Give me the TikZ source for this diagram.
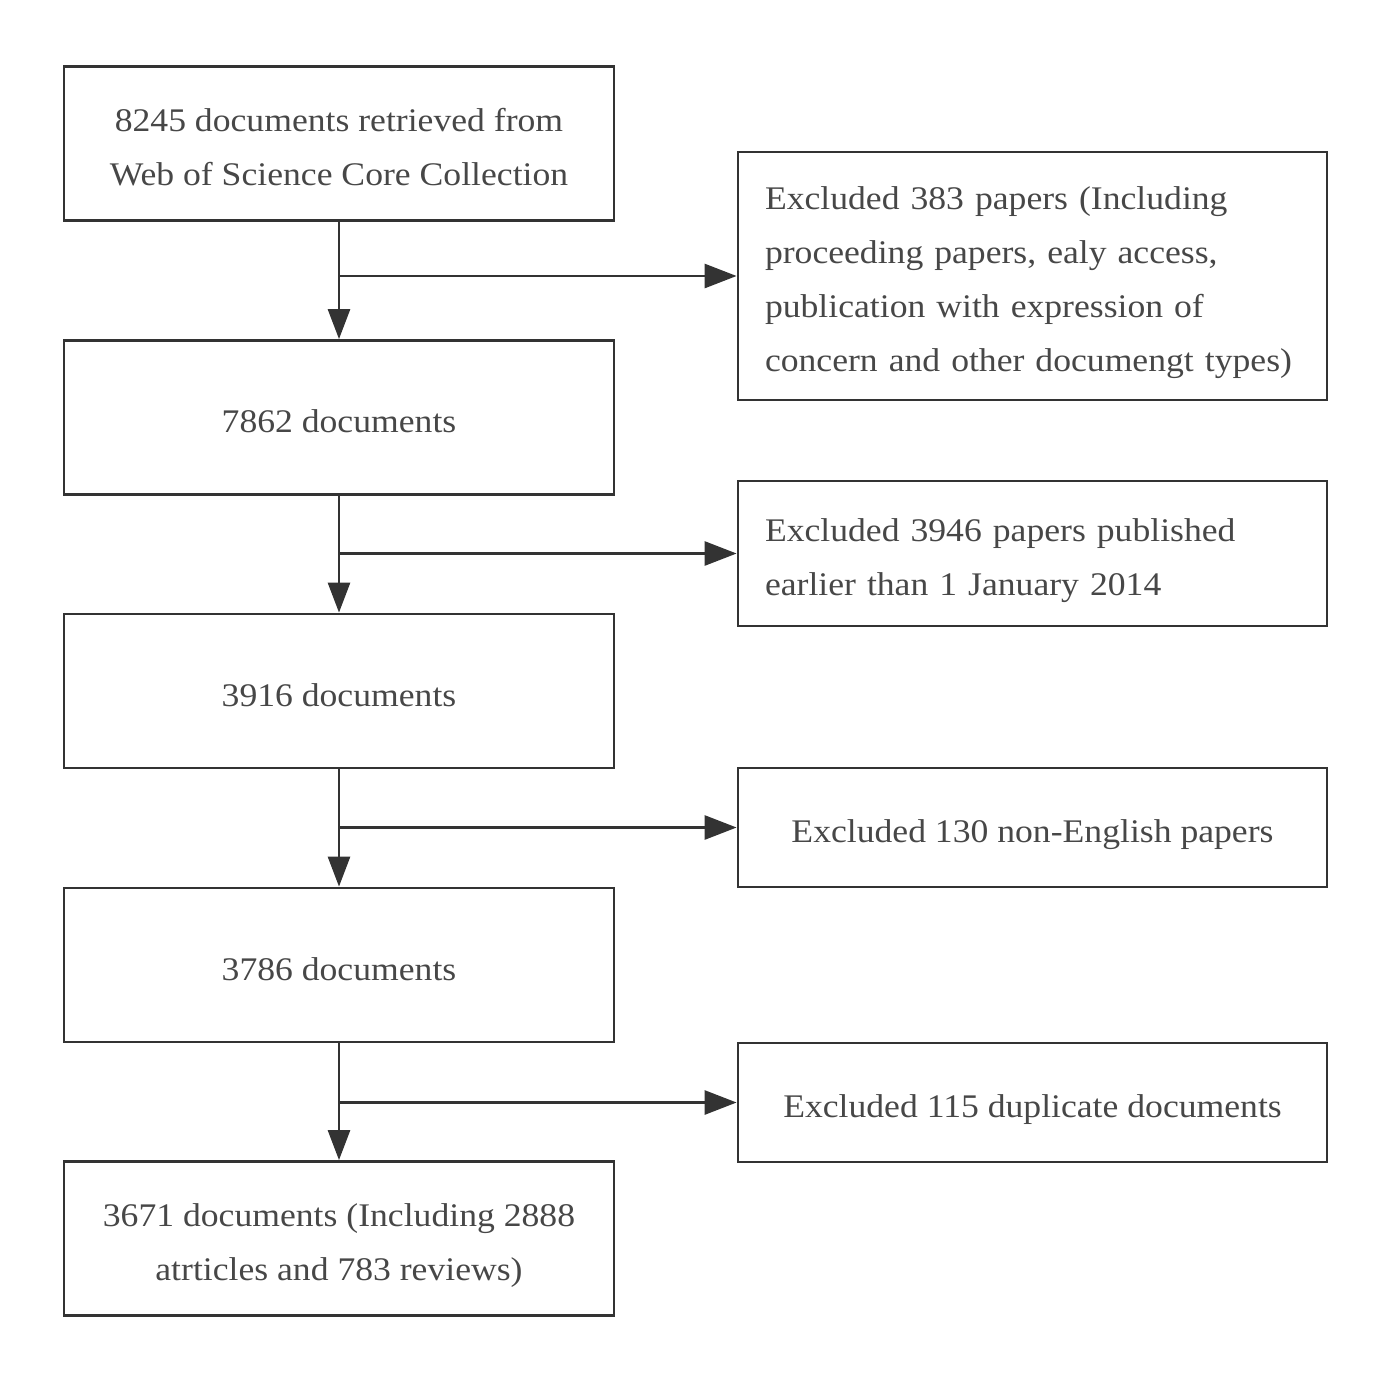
\documentclass[tikz,border=0pt]{standalone}
\usepackage{fontspec}
\setmainfont[FakeStretch=1.08]{Liberation Serif}
\usetikzlibrary{arrows.meta}
\definecolor{lc}{HTML}{333333}
\definecolor{tc}{HTML}{474747}
\begin{document}
\begin{tikzpicture}[x=0.5pt,y=-0.5pt,
  box/.style={draw=lc,line width=1.4pt,inner sep=0pt},
  lbox/.style={box,minimum width=275pt,minimum height=77pt},
  rbox/.style={box,minimum width=294.5pt},
  txt/.style={text=tc,font=\fontsize{16.5}{27}\selectfont,inner sep=0pt,align=center},
  ltxt/.style={txt,align=left,text width=267.5pt},
  arr/.style={draw=lc,line width=1.4pt,-{Triangle[length=15pt,width=11pt]}},
  harr/.style={draw=lc,line width=1.4pt,-{Triangle[length=16pt,width=12pt]}}]
\useasboundingbox (0,0) rectangle (1391,1381);
\node[lbox] (a1) at (339,143.5) {};
\node[lbox] (a2) at (339,417.5) {};
\node[lbox] (a3) at (339,691) {};
\node[lbox] (a4) at (339,965) {};
\node[lbox] (a5) at (339,1238.5) {};
\node[rbox,minimum height=124pt] (r1) at (1032.5,276) {};
\node[rbox,minimum height=72.5pt] (r2) at (1032.5,553.5) {};
\node[rbox,minimum height=59.5pt] (r3) at (1032.5,827.5) {};
\node[rbox,minimum height=59.5pt] (r4) at (1032.5,1102.5) {};
\node[txt] (t1) at ([yshift=-2pt]a1.center) {8245 documents retrieved from\\Web of Science Core Collection};
\node[txt] (t2) at ([yshift=-2pt]a2.center) {7862 documents};
\node[txt] (t3) at ([yshift=-2pt]a3.center) {3916 documents};
\node[txt] (t4) at ([yshift=-2pt]a4.center) {3786 documents};
\node[txt] (t5) at ([yshift=-3.5pt]a5.center) {3671 documents (Including 2888\\atrticles and 783 reviews)};
\node[ltxt] (s1) at ([yshift=-3.5pt]r1.center) {Excluded 383 papers (Including\\proceeding papers, ealy access,\\publication with expression of\\concern and other documengt types)};
\node[ltxt] (s2) at ([yshift=-3.5pt]r2.center) {Excluded 3946 papers published\\earlier than 1 January 2014};
\node[txt] (s3) at ([yshift=-3.5pt]r3.center) {Excluded 130 non-English papers};
\node[txt] (s4) at ([yshift=-3.5pt]r4.center) {Excluded 115 duplicate documents};
\foreach \i/\j in {1/2,2/3,3/4,4/5}{
  \draw[arr] (a\i.south) -- (a\j.north);
}
\coordinate (c1) at (a1.south |- r1.west);
\coordinate (c2) at (a2.south |- r2.west);
\coordinate (c3) at (a3.south |- r3.west);
\coordinate (c4) at (a4.south |- r4.west);
\foreach \i in {1,2,3,4}{
  \draw[harr] (c\i) -- (r\i.west);
}
\end{tikzpicture}
\end{document}
